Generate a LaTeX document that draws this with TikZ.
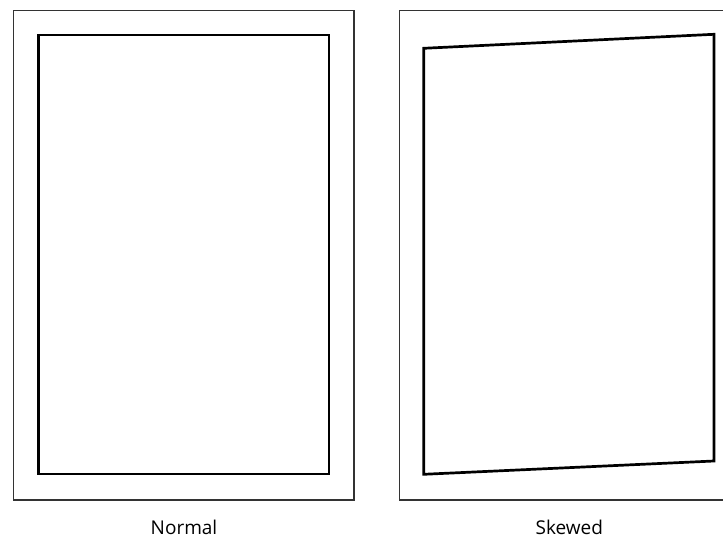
\documentclass[tikz,border=0pt]{standalone}
\usepackage{fontspec}
\setmainfont{Open Sans}
\begin{document}
\begin{tikzpicture}[x=1pt,y=-1pt,
  outerbox/.style={draw=black!80,line width=1.3pt},
  innerbox/.style={draw=black,line width=2.7pt,line join=miter},
  caption/.style={font=\fontsize{19}{22}\selectfont,anchor=base,inner sep=0pt}]
\useasboundingbox (0,0) rectangle (723,540);
\clip (0,0) rectangle (723,540);
% Normal
\draw[outerbox] (13.5,10.5) rectangle (354,500);
\draw[innerbox] (38.5,35) rectangle (329,474);
% Skewed
\draw[outerbox] (399.5,10.5) rectangle (760,500);
\coordinate (tl) at (423.7,48.3);
\coordinate (tr) at (714,34.3);
\coordinate (br) at (714,461);
\coordinate (bl) at (423.7,474.3);
\draw[innerbox] (tl) -- (tr) -- (br) -- (bl) -- cycle;
\node[caption] (n1) at (184,534.3) {Normal};
\node[caption] (n2) at (569.3,534.3) {Skewed};
\end{tikzpicture}
\end{document}
